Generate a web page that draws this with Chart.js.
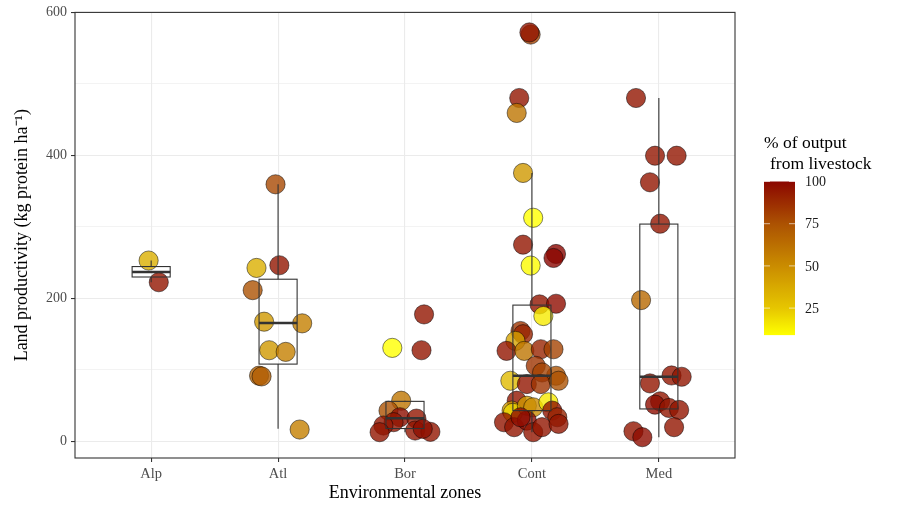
<!DOCTYPE html>
<html>
<head>
<meta charset="utf-8">
<script src="https://cdn.jsdelivr.net/npm/chart.js@4/dist/chart.umd.min.js"></script>
<style>
  body { margin: 0; background: #fff; }
  #wrap { width: 900px; height: 514px; }
</style>
</head>
<body>
<div id="wrap"><canvas id="c" width="900" height="514"></canvas></div>
<script>
// categories and tick labels
const zones = ['Alp', 'Atl', 'Bor', 'Cont', 'Med'];
const yTicks = [0, 100, 200, 300, 400, 500, 600];
const colorbarTicks = [25, 50, 75, 100];
const colorLimits = [9, 100];

// points per zone: productivity, jitter (in category units), % output from livestock
const alpValues = [253, 222.7];
const alpJitter = [-0.02, 0.06];
const alpLivestock = [35, 95];

const atlValues = [242.7, 246.4, 359.6, 211.6, 167.5, 165.2, 127.6, 125.3, 92, 91, 16.7];
const atlJitter = [-0.17, 0.01, -0.02, -0.20, -0.11, 0.19, -0.07, 0.06, -0.15, -0.13, 0.17];
const atlLivestock = [35, 95, 78, 75, 45, 55, 45, 55, 68, 70, 55];

const borValues = [177.7, 130.9, 127.6, 57, 43, 33.9, 27, 22.3, 13, 32, 15.3, 13.5, 17.7];
const borJitter = [0.15, -0.10, 0.13, -0.03, -0.13, -0.04, -0.09, -0.17, -0.20, 0.09, 0.08, 0.20, 0.14];
const borLivestock = [95, 5, 95, 60, 75, 97, 95, 95, 95, 95, 95, 95, 97];

const contValues = [569, 572, 480.3, 459.4, 375.5, 312.8, 275.2, 262.2, 256.6, 246,
  191.7, 192.6, 175.4, 154.5, 150, 140.6, 126.7, 126.7, 129, 129,
  105.8, 91.9, 96.5, 84.9, 80.3, 80.3, 84.9, 57, 43.2, 40,
  50, 47.8, 54.7, 43.2, 33.9, 26.9, 20, 29.2, 13, 20, 24.6, 33.9];
const contJitter = [-0.01, -0.02, -0.10, -0.12, -0.07, 0.01, -0.07, 0.19, 0.17, -0.01,
  0.06, 0.19, 0.09, -0.09, -0.07, -0.13, -0.20, -0.06, 0.07, 0.17,
  0.03, 0.19, 0.08, -0.17, -0.04, 0.07, 0.21, -0.12, -0.16, -0.15,
  -0.04, 0.01, 0.13, 0.16, 0.20, -0.22, -0.14, -0.04, 0.01, 0.08, 0.21, -0.09];
const contLivestock = [80, 95, 95, 60, 45, 8, 95, 100, 100, 10,
  95, 98, 15, 85, 90, 40, 95, 60, 90, 80,
  85, 75, 80, 30, 95, 85, 75, 95, 45, 20,
  45, 50, 15, 95, 90, 95, 95, 98, 95, 95, 95, 98];

const medValues = [480.3, 399.6, 399.6, 362.4, 304.5, 197.7, 81.2, 92.3, 90.5, 56.1, 51.5, 46.9, 44.1, 20, 14.3, 6];
const medJitter = [-0.18, -0.03, 0.14, -0.07, 0.01, -0.14, -0.07, 0.10, 0.18, 0.01, -0.03, 0.08, 0.16, 0.12, -0.20, -0.13];
const medLivestock = [95, 95, 95, 95, 95, 65, 95, 95, 95, 95, 98, 95, 95, 95, 95, 98];

// box statistics, one entry per zone
const boxLow = [222.7, 17.7, 13, 13, 6];
const boxQ1 = [230, 108.2, 18.1, 43.2, 45.5];
const boxMedian = [237, 165.7, 32.5, 91.9, 90.5];
const boxQ3 = [244.6, 226.9, 56.1, 190.7, 304];
const boxHigh = [253, 359.6, 57, 375.5, 480.3];

// colour bar stops: value -> rgb
const stopValues = [9, 25, 50, 75, 100];
const stopColors = [[255, 255, 0], [230, 198, 0], [202, 140, 0], [172, 82, 2], [139, 6, 0]];

const zoneData = [
  [alpValues, alpJitter, alpLivestock],
  [atlValues, atlJitter, atlLivestock],
  [borValues, borJitter, borLivestock],
  [contValues, contJitter, contLivestock],
  [medValues, medJitter, medLivestock]
];
const points = [];
zoneData.forEach(([vals, jit, pct], i) => {
  vals.forEach((v, k) => points.push({ x: i + 1 + jit[k], y: v, pct: pct[k] }));
});

function livestockColor(p, alpha) {
  p = Math.max(stopValues[0], Math.min(stopValues[stopValues.length - 1], p));
  let k = 0;
  while (k < stopValues.length - 2 && p > stopValues[k + 1]) k++;
  const t = (p - stopValues[k]) / (stopValues[k + 1] - stopValues[k]);
  const c = stopColors[k].map((v, i) => Math.round(v + (stopColors[k + 1][i] - v) * t));
  return `rgba(${c[0]},${c[1]},${c[2]},${alpha})`;
}

const serif = "'Liberation Serif', 'Times New Roman', serif";

const boxPlugin = {
  id: 'boxes',
  afterDatasetsDraw(chart) {
    const { ctx, chartArea, scales: { x, y } } = chart;
    ctx.save();
    ctx.strokeStyle = '#333333';
    zones.forEach((z, i) => {
      const cx = x.getPixelForValue(i + 1);
      const hw = x.getPixelForValue(i + 1.15) - cx;
      const yLo = y.getPixelForValue(boxLow[i]);
      const y1 = y.getPixelForValue(boxQ1[i]);
      const yM = y.getPixelForValue(boxMedian[i]);
      const y3 = y.getPixelForValue(boxQ3[i]);
      const yHi = y.getPixelForValue(boxHigh[i]);
      ctx.lineWidth = 1.1;
      ctx.beginPath();
      ctx.moveTo(cx, y3); ctx.lineTo(cx, yHi);
      ctx.moveTo(cx, y1); ctx.lineTo(cx, yLo);
      ctx.stroke();
      ctx.strokeRect(cx - hw, y3, 2 * hw, y1 - y3);
      ctx.lineWidth = 2.4;
      ctx.beginPath();
      ctx.moveTo(cx - hw, yM); ctx.lineTo(cx + hw, yM);
      ctx.stroke();
    });
    // panel border
    ctx.lineWidth = 1.1;
    ctx.strokeRect(chartArea.left, chartArea.top, chartArea.right - chartArea.left, chartArea.bottom - chartArea.top);
    ctx.restore();
  }
};

const colorbarPlugin = {
  id: 'colorbar',
  afterDraw(chart) {
    const ctx = chart.ctx;
    const left = 764, w = 31, yTop = 181.5, perUnit = 42.2 / 25;
    const yAt = v => yTop + (colorLimits[1] - v) * perUnit;
    const yBottom = yAt(colorLimits[0]);
    ctx.save();
    const grad = ctx.createLinearGradient(0, yBottom, 0, yTop);
    for (let s = 0; s <= 40; s++) {
      grad.addColorStop(s / 40, livestockColor(colorLimits[0] + (colorLimits[1] - colorLimits[0]) * s / 40, 1));
    }
    ctx.fillStyle = grad;
    ctx.fillRect(left, yTop, w, yBottom - yTop);
    ctx.strokeStyle = 'rgba(255,255,255,0.6)';
    ctx.lineWidth = 1;
    ctx.fillStyle = '#1a1a1a';
    ctx.font = `14px ${serif}`;
    ctx.textBaseline = 'middle';
    colorbarTicks.forEach(v => {
      const yy = yAt(v);
      ctx.beginPath();
      ctx.moveTo(left, yy); ctx.lineTo(left + 6, yy);
      ctx.moveTo(left + w - 6, yy); ctx.lineTo(left + w, yy);
      ctx.stroke();
      ctx.fillText(String(v), 805, yy + 1);
    });
    ctx.fillStyle = '#000';
    ctx.font = `17.5px ${serif}`;
    ctx.fillText('% of output', 764, 143);
    ctx.fillText('from livestock', 770, 164);
    ctx.restore();
  }
};

new Chart(document.getElementById('c'), {
  type: 'scatter',
  data: {
    datasets: [{
      data: points,
      pointRadius: 9.6,
      pointBorderWidth: 0.7,
      borderColor: 'rgba(0,0,0,0.7)',
      backgroundColor: ctx => livestockColor(ctx.raw ? ctx.raw.pct : 100, 0.8)
    }]
  },
  options: {
    responsive: false,
    animation: false,
    events: [],
    layout: { padding: { left: 0, right: 165, top: 10, bottom: 0 } },
    plugins: { legend: { display: false }, tooltip: { enabled: false } },
    scales: {
      x: {
        type: 'linear',
        min: 0.4,
        max: 5.6,
        afterBuildTicks: s => { s.ticks = zones.map((z, i) => ({ value: i + 1 })); },
        afterFit: s => { s.height = 56; },
        border: { display: false },
        grid: { color: '#EBEBEB', lineWidth: 1.1, tickLength: 4, tickColor: '#333333', tickWidth: 1.07 },
        ticks: {
          autoSkip: false, maxRotation: 0, padding: 3,
          color: '#4D4D4D', font: { family: serif, size: 14.5 },
          callback: v => zones[v - 1]
        },
        title: {
          display: true, text: 'Environmental zones', color: '#000',
          font: { family: serif, size: 18 }, padding: { top: 0, bottom: 10 }
        }
      },
      y: {
        min: -23.1,
        max: 600,
        afterBuildTicks: s => { s.ticks = yTicks.map(v => ({ value: v })); },
        afterFit: s => { s.width = 75; },
        border: { display: false },
        grid: {
          color: '#EBEBEB',
          lineWidth: c => (c.tick && c.tick.value % 200 === 0) ? 1.1 : 0.6,
          tickLength: 4,
          tickColor: c => (c.tick && c.tick.value % 200 === 0) ? '#333333' : 'rgba(0,0,0,0)',
          tickWidth: 1.07
        },
        ticks: {
          autoSkip: false, padding: 4,
          color: '#4D4D4D', font: { family: serif, size: 14 },
          callback: v => v % 200 === 0 ? String(v) : ''
        },
        title: {
          display: true, text: 'Land productivity (kg protein ha⁻¹)', color: '#000',
          font: { family: serif, size: 18 }, padding: { top: 11, bottom: 0 }
        }
      }
    }
  },
  plugins: [boxPlugin, colorbarPlugin]
});
</script>
</body>
</html>
